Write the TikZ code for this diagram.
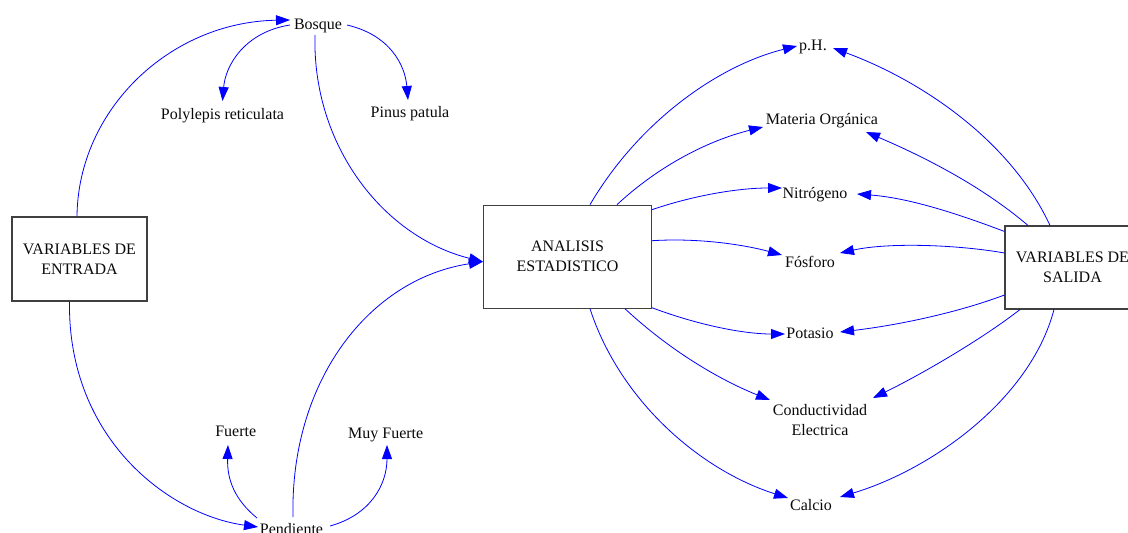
\documentclass[tikz,border=0pt]{standalone}
\usepackage{fontspec}
\setmainfont{Liberation Serif}
\usetikzlibrary{arrows.meta}
\definecolor{boxline}{RGB}{64,64,64}
\definecolor{txt}{RGB}{10,10,10}
\begin{document}
\begin{tikzpicture}[x=1pt,y=-1pt,
  lbl/.style={inner sep=0pt, text height=10.5pt, text depth=0pt, align=center, text=txt,
    font=\fontsize{16}{20}\selectfont},
  two/.style={text height=30.5pt},
  bx/.style={lbl, two, draw=boxline, fill=white, line width=1.1pt},
  link/.style={draw=blue, line width=0.8pt, -{Triangle[length=14pt,width=10pt]}}
]
\useasboundingbox[fill=white] (0,0) rectangle (1128,533);

% boxes
\node[bx, minimum width=135pt, minimum height=84pt] (in) at (79.5,259) {VARIABLES DE\\ENTRADA};
\node[bx, minimum width=168pt, minimum height=103pt] (ana) at (567.5,256.7) {ANALISIS\\ESTADISTICO};
\node[bx, minimum width=135pt, minimum height=83pt] (out) at (1072.5,267.5) {VARIABLES DE\\SALIDA};

% labels
\node[lbl] (bosque) at (318,24) {Bosque};
\node[lbl] (poly) at (222.5,114) {Polylepis reticulata};
\node[lbl] (pinus) at (410,112) {Pinus patula};
\node[lbl] (pend) at (291.5,529) {Pendiente};
\node[lbl] (fuerte) at (235.7,431) {Fuerte};
\node[lbl] (muy) at (385.7,433) {Muy Fuerte};
\node[lbl] (ph) at (813,45) {p.H.};
\node[lbl] (mo) at (822,119) {Materia Orgánica};
\node[lbl] (nit) at (815,193) {Nitrógeno};
\node[lbl] (fos) at (810,262) {Fósforo};
\node[lbl] (pot) at (810,333) {Potasio};
\node[lbl, two] (cond) at (820,420.5) {Conductividad\\Electrica};
\node[lbl] (cal) at (811,505) {Calcio};

% left side
\draw[link] ([xshift=-2.5pt]in.north) .. controls +(1,-107) and +(-120,2) .. ([shift={(-28,-4)}]bosque.center);
\draw[link] ([shift={(-28,1)}]bosque.center) .. controls +(-45,7) and +(3,-36) .. ([shift={(0,-13)}]poly.center);
\draw[link] ([shift={(29,1)}]bosque.center) .. controls +(43,10) and +(-3,-35) .. ([shift={(-2,-12)}]pinus.center);
\draw[link] ([shift={(-3,11)}]bosque.center) .. controls +(-3,110) and +(-100,-25) .. ([shift={(0,5)}]ana.west);
\draw[link] ([xshift=-10pt]in.south) .. controls +(-2,138) and +(-88,-12) .. ([shift={(-33.5,-2)}]pend.center);
\draw[link] ([shift={(1.5,-12)}]pend.center) .. controls +(-3,-137) and +(-113,17) .. ([shift={(0,5)}]ana.west);
\draw[link] ([shift={(-34.5,-11)}]pend.center) .. controls +(-22,-18) and +(-1,35) .. ([shift={(-7.7,14)}]fuerte.center);
\draw[link] ([shift={(38.5,-3)}]pend.center) .. controls +(40,-11) and +(0,40) .. ([shift={(1.3,12)}]muy.center);

% analysis to outputs
\draw[link] ([xshift=22.5pt]ana.north) .. controls +(50,-85) and +(-77,19) .. ([shift={(-16,1)}]ph.center);
\draw[link] ([xshift=49.5pt]ana.north) .. controls +(43,-40) and +(-53,13) .. ([shift={(-59,8)}]mo.center);
\draw[link] ([shift={(0,5)}]ana.north east) .. controls +(38,-13) and +(-47,0) .. ([shift={(-33,-5)}]nit.center);
\draw[link] ([shift={(0,-16)}]ana.east) .. controls +(48,-3) and +(-37,-10) .. ([shift={(-28,-7)}]fos.center);
\draw[link] ([shift={(0,-1)}]ana.south east) .. controls +(48,18) and +(-40,0) .. ([shift={(-25,1)}]pot.center);
\draw[link] ([xshift=57.5pt]ana.south) .. controls +(45,42) and +(-50,-20) .. ([shift={(-50,-20.5)}]cond.center);
\draw[link] ([xshift=22.5pt]ana.south) .. controls +(30,92) and +(-88,-28) .. ([shift={(-23,-7)}]cal.center);

% output variables to outputs
\draw[link] ([xshift=-22.5pt]out.north) .. controls +(-40,-86) and +(87,32) .. ([shift={(20,3)}]ph.center);
\draw[link] ([xshift=-44.5pt]out.north) .. controls +(-48,-41) and +(54,23) .. ([shift={(44,13)}]mo.center);
\draw[link] ([shift={(0,6)}]out.north west) .. controls +(-45,-17) and +(53,4) .. ([shift={(42,1)}]nit.center);
\draw[link] ([shift={(0,-14.5)}]out.west) .. controls +(-45,-8) and +(50,-11) .. ([shift={(30,-9)}]fos.center);
\draw[link] ([shift={(0,27.5)}]out.west) .. controls +(-45,17) and +(60,-7) .. ([shift={(30,-1)}]pot.center);
\draw[link] ([xshift=-52.5pt]out.south) .. controls +(-40,31) and +(47,-23) .. ([shift={(53,-22.5)}]cond.center);
\draw[link] ([xshift=-18.5pt]out.south) .. controls +(-24,91) and +(90,-27) .. ([shift={(29,-8)}]cal.center);
\end{tikzpicture}
\end{document}
